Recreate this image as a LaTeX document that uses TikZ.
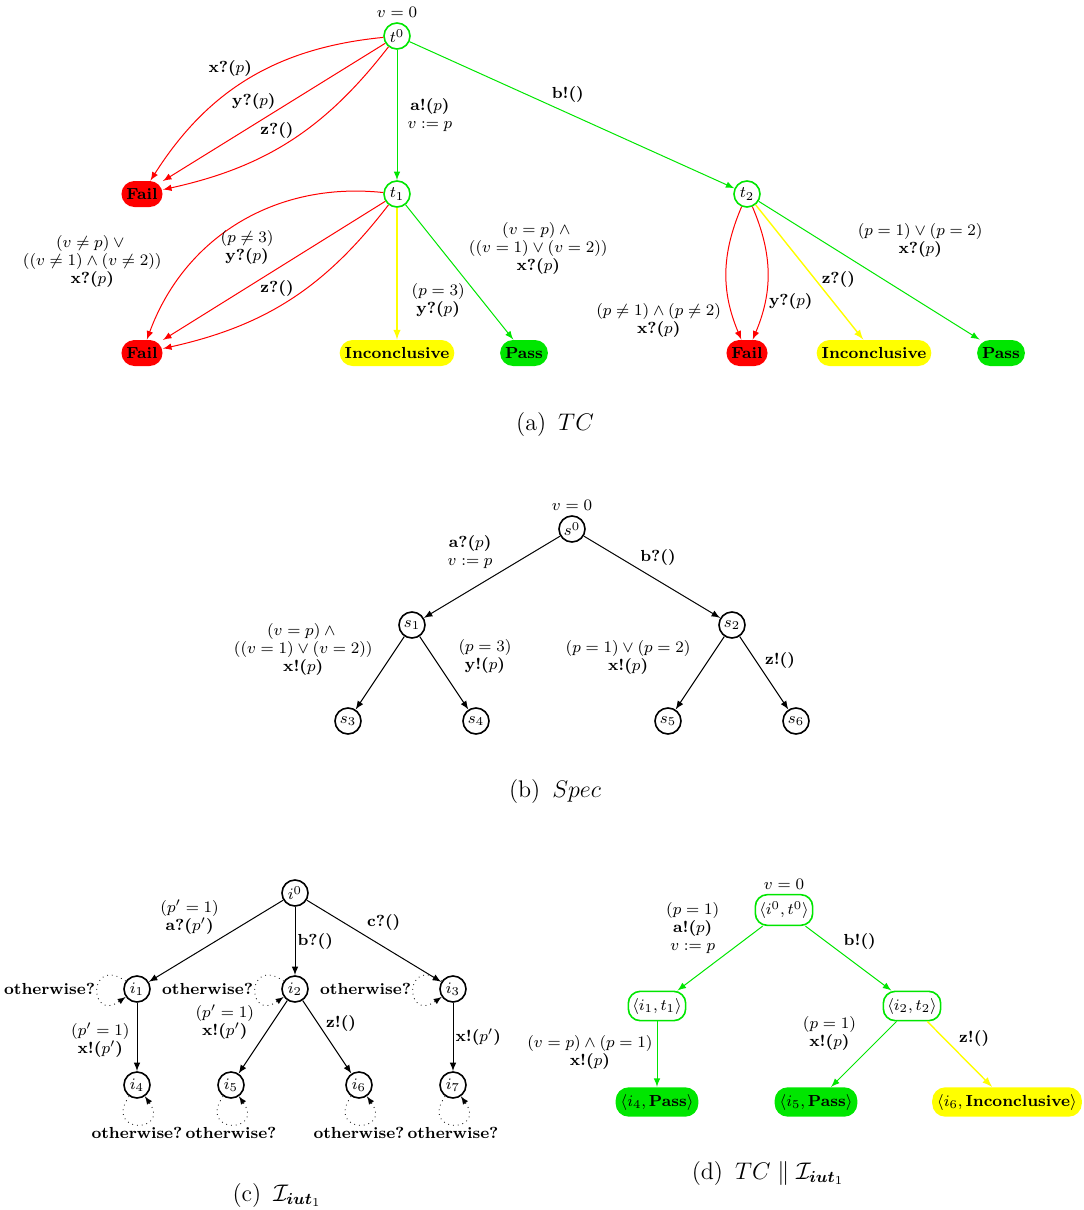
\documentclass[tikz,border=0pt]{standalone}
\usepackage{amsmath,amssymb}
\usetikzlibrary{positioning}
\definecolor{tcgreen}{RGB}{0,230,0}
\definecolor{tcred}{RGB}{255,0,0}
\definecolor{tcyellow}{RGB}{255,255,0}
\newcommand{\actlbl}[2]{\textbf{#1(}$#2$\textbf{)}}

\begin{document}
\begin{tikzpicture}[x=0.5pt, y=-0.5pt, node distance=48pt, auto, >=latex,
    state/.style={circle, draw, thick, minimum size=13pt, inner sep=0pt, font=\footnotesize},
    tcstate/.style={state, draw=tcgreen},
    pair/.style={draw=tcgreen, thick, rounded corners=6pt, minimum height=13pt, inner xsep=2pt, font=\footnotesize},
    verdict/.style={rounded corners=6.5pt, minimum height=13pt, inner xsep=2.5pt, font=\footnotesize\bfseries},
    fail/.style={verdict, fill=tcred},
    pass/.style={verdict, fill=tcgreen},
    inconc/.style={verdict, fill=tcyellow},
    lbl/.style={font=\footnotesize\setlength{\baselineskip}{9pt}, align=center, inner sep=1pt, text=black},
    captext/.style={font=\large},
    tr/.style={->, line width=0.5pt},
    redtr/.style={tr, tcred},
    greentr/.style={tr, tcgreen},
    yellowtr/.style={tr, tcyellow, line width=0.7pt},
    otherwise/.style={->, thin, dotted, distance=23pt}]
    \useasboundingbox (0,0) rectangle (1083,1210);

    \node[tcstate, label={[lbl, label distance=1pt]above:$v = 0$}] (t0) at (397,36) {$t^0$};
    \node[tcstate] (t1) [below of=t0, node distance=79pt] {$t_1$};
    \node[tcstate] (t2) [right of=t1, node distance=175pt] {$t_2$};
    \node[fail] (fail1) [left of=t1, node distance=127.5pt] {Fail};
    \node[fail] (fail2) [below of=fail1, node distance=79.5pt] {Fail};
    \node[inconc] (inc1) [below of=t1, node distance=79.5pt] {Inconclusive};
    \node[pass] (pass1) [right of=inc1, node distance=63.5pt] {Pass};
    \node[fail] (fail3) [below of=t2, node distance=79.5pt] {Fail};
    \node[inconc] (inc2) [right of=fail3, node distance=63.5pt] {Inconclusive};
    \node[pass] (pass2) [right of=inc2, node distance=63.5pt] {Pass};
    \node[captext] (capa) at (555,425) {(a)\enspace$TC$};

    \draw[redtr] (t0) to[bend right=26] node[lbl, swap, pos=0.5, xshift=3pt] {\actlbl{x?}{p}} (fail1);
    \draw[redtr] (t0) -- node[lbl, swap, pos=0.5, xshift=2pt] {\actlbl{y?}{p}} (fail1);
    \draw[redtr] (t0) to[bend left=20] node[lbl, swap, pos=0.5, xshift=3pt] {\textbf{z?()}} (fail1);
    \draw[greentr] (t0) -- node[lbl, pos=0.5, xshift=4pt] {\actlbl{a!}{p}\\$v := p$} (t1);
    \draw[greentr] (t0) -- node[lbl, pos=0.43] {\textbf{b!()}} (t2);
    \draw[redtr] (t1) to[bend right=38] node[lbl, left=15pt, pos=0.7, yshift=-0.5pt] {$(v \neq p) \vee{}$\\$((v \neq 1) \wedge (v \neq 2))$\\\actlbl{x?}{p}} (fail2);
    \draw[redtr] (t1) -- node[lbl, swap, pos=0.5, xshift=1pt, yshift=2pt] {$(p \neq 3)$\\\actlbl{y?}{p}} (fail2);
    \draw[redtr] (t1) to[bend left=20] node[lbl, swap, pos=0.5, xshift=3pt] {\textbf{z?()}} (fail2);
    \draw[yellowtr] (t1) -- node[lbl, pos=0.7, xshift=6pt] {$(p = 3)$\\\actlbl{y?}{p}} (inc1);
    \draw[greentr] (t1) -- node[lbl, pos=0.5, xshift=3.5pt, yshift=-2.5pt] {$(v = p) \wedge{}$\\$((v = 1) \vee (v = 2))$\\\actlbl{x?}{p}} (pass1);
    \draw[redtr] (t2) to[bend right=23] node[lbl, swap, pos=0.7, xshift=-2.5pt, yshift=-1pt] {$(p \neq 1) \wedge (p \neq 2)$\\\actlbl{x?}{p}} (fail3);
    \draw[redtr] (t2) to[bend left=23] node[lbl, pos=0.64] {\actlbl{y?}{p}} (fail3);
    \draw[yellowtr] (t2) -- node[lbl, pos=0.58, xshift=0.5pt, yshift=-3.5pt] {\textbf{z?()}} (inc2);
    \draw[greentr] (t2) -- node[lbl, pos=0.46, xshift=-2.5pt, yshift=2.5pt] {$(p = 1) \vee (p = 2)$\\\actlbl{x?}{p}} (pass2);

    \node[state, label={[lbl, label distance=1pt]above:$v = 0$}] (s0) at (572,529) {$s^0$};
    \node[state] (s1) [below of=s0, xshift=-80pt] {$s_1$};
    \node[state] (s2) [below of=s0, xshift=80pt] {$s_2$};
    \node[state] (s3) [below of=s1, xshift=-32pt] {$s_3$};
    \node[state] (s4) [below of=s1, xshift=32pt] {$s_4$};
    \node[state] (s5) [below of=s2, xshift=-32pt] {$s_5$};
    \node[state] (s6) [below of=s2, xshift=32pt] {$s_6$};
    \node[captext] (capb) at (555,792) {(b)\enspace$Spec$};

    \draw[tr] (s0) -- node[lbl, swap, pos=0.5, xshift=1.5pt, yshift=3pt] {\actlbl{a?}{p}\\$v := p$} (s1);
    \draw[tr] (s0) -- node[lbl, pos=0.44, xshift=-3pt, yshift=2pt] {\textbf{b?()}} (s2);
    \draw[tr] (s1) -- node[lbl, swap, pos=0.5, xshift=-2.5pt, yshift=-2.5pt] {$(v = p) \wedge{}$\\$((v = 1) \vee (v = 2))$\\\actlbl{x!}{p}} (s3);
    \draw[tr] (s1) -- node[lbl, pos=0.5, xshift=6pt, yshift=-1.5pt] {$(p = 3)$\\\actlbl{y!}{p}} (s4);
    \draw[tr] (s2) -- node[lbl, swap, pos=0.5, xshift=-3.5pt, yshift=-2pt] {$(p = 1) \vee (p = 2)$\\\actlbl{x!}{p}} (s5);
    \draw[tr] (s2) -- node[lbl, pos=0.45, xshift=0.5pt, yshift=-1pt] {\textbf{z!()}} (s6);

    \node[state] (i0) at (295,893) {$i^0$};
    \node[state] (i1) [below of=i0, xshift=-79pt] {$i_1$};
    \node[state] (i2) [below of=i0] {$i_2$};
    \node[state] (i3) [below of=i0, xshift=79pt] {$i_3$};
    \node[state] (i4) [below of=i1] {$i_4$};
    \node[state] (i5) [below of=i2, xshift=-32pt] {$i_5$};
    \node[state] (i6) [below of=i2, xshift=32pt] {$i_6$};
    \node[state] (i7) [below of=i3] {$i_7$};
    \node[captext] (capc) at (277,1195) {(c)\enspace$\mathcal{I}_{\boldsymbol{iut}_1}$};

    \draw[tr] (i0) -- node[lbl, swap, pos=0.52, xshift=4pt, yshift=3pt] {$(p' = 1)$\\\actlbl{a?}{p'}} (i1);
    \draw[tr] (i0) -- node[lbl, pos=0.5] {\textbf{b?()}} (i2);
    \draw[tr] (i0) -- node[lbl, pos=0.43, yshift=1pt] {\textbf{c?()}} (i3);
    \draw[tr] (i1) -- node[lbl, swap, pos=0.49, xshift=-2.5pt, yshift=-2pt] {$(p' = 1)$\\\actlbl{x!}{p'}} (i4);
    \draw[tr] (i2) -- node[lbl, swap, pos=0.47, xshift=-4pt, yshift=-3.5pt] {$(p' = 1)$\\\actlbl{x!}{p'}} (i5);
    \draw[tr] (i2) -- node[lbl, pos=0.43, yshift=-1pt] {\textbf{z!()}} (i6);
    \draw[tr] (i3) -- node[lbl, pos=0.5] {\actlbl{x!}{p'}} (i7);
    \draw[otherwise] (i1) to[out=145, in=215] node[lbl, left] {\textbf{otherwise?}} (i1);
    \draw[otherwise] (i2) to[out=145, in=215] node[lbl, left] {\textbf{otherwise?}} (i2);
    \draw[otherwise] (i3) to[out=145, in=215] node[lbl, left] {\textbf{otherwise?}} (i3);
    \draw[otherwise] (i4) to[out=235, in=305] node[lbl, below] {\textbf{otherwise?}} (i4);
    \draw[otherwise] (i5) to[out=235, in=305] node[lbl, below] {\textbf{otherwise?}} (i5);
    \draw[otherwise] (i6) to[out=235, in=305] node[lbl, below] {\textbf{otherwise?}} (i6);
    \draw[otherwise] (i7) to[out=235, in=305] node[lbl, below] {\textbf{otherwise?}} (i7);

    \node[pair, label={[lbl, label distance=1pt]above:$v = 0$}] (r0) at (784,910) {$\langle i^0, t^0 \rangle$};
    \node[pair] (r1) [below of=r0, xshift=-63.5pt] {$\langle i_1, t_1 \rangle$};
    \node[pair] (r2) [below of=r0, xshift=64pt] {$\langle i_2, t_2 \rangle$};
    \node[pass] (r4) [below of=r1] {$\langle i_4, \textbf{Pass} \rangle$};
    \node[pass] (r5) [below of=r2, xshift=-48pt] {$\langle i_5, \textbf{Pass} \rangle$};
    \node[inconc] (r6) [below of=r2, xshift=47.5pt] {$\langle i_6, \textbf{Inconclusive} \rangle$};
    \node[captext] (capd) at (768,1173) {(d)\enspace$TC \parallel \mathcal{I}_{\boldsymbol{iut}_1}$};

    \draw[greentr] (r0) -- node[lbl, swap, pos=0.54, xshift=2.5pt, yshift=2.5pt] {$(p = 1)$\\\actlbl{a!}{p}\\$v := p$} (r1);
    \draw[greentr] (r0) -- node[lbl, pos=0.45, xshift=-1.5pt, yshift=1.5pt] {\textbf{b!()}} (r2);
    \draw[greentr] (r1) -- node[lbl, swap, pos=0.48, xshift=-1pt] {$(v = p) \wedge (p = 1)$\\\actlbl{x!}{p}} (r4);
    \draw[greentr] (r2) -- node[lbl, swap, pos=0.43, xshift=-5pt, yshift=-1.5pt] {$(p = 1)$\\\actlbl{x!}{p}} (r5);
    \draw[yellowtr] (r2) -- node[lbl, pos=0.42, xshift=1pt] {\textbf{z!()}} (r6);
\end{tikzpicture}
\end{document}
